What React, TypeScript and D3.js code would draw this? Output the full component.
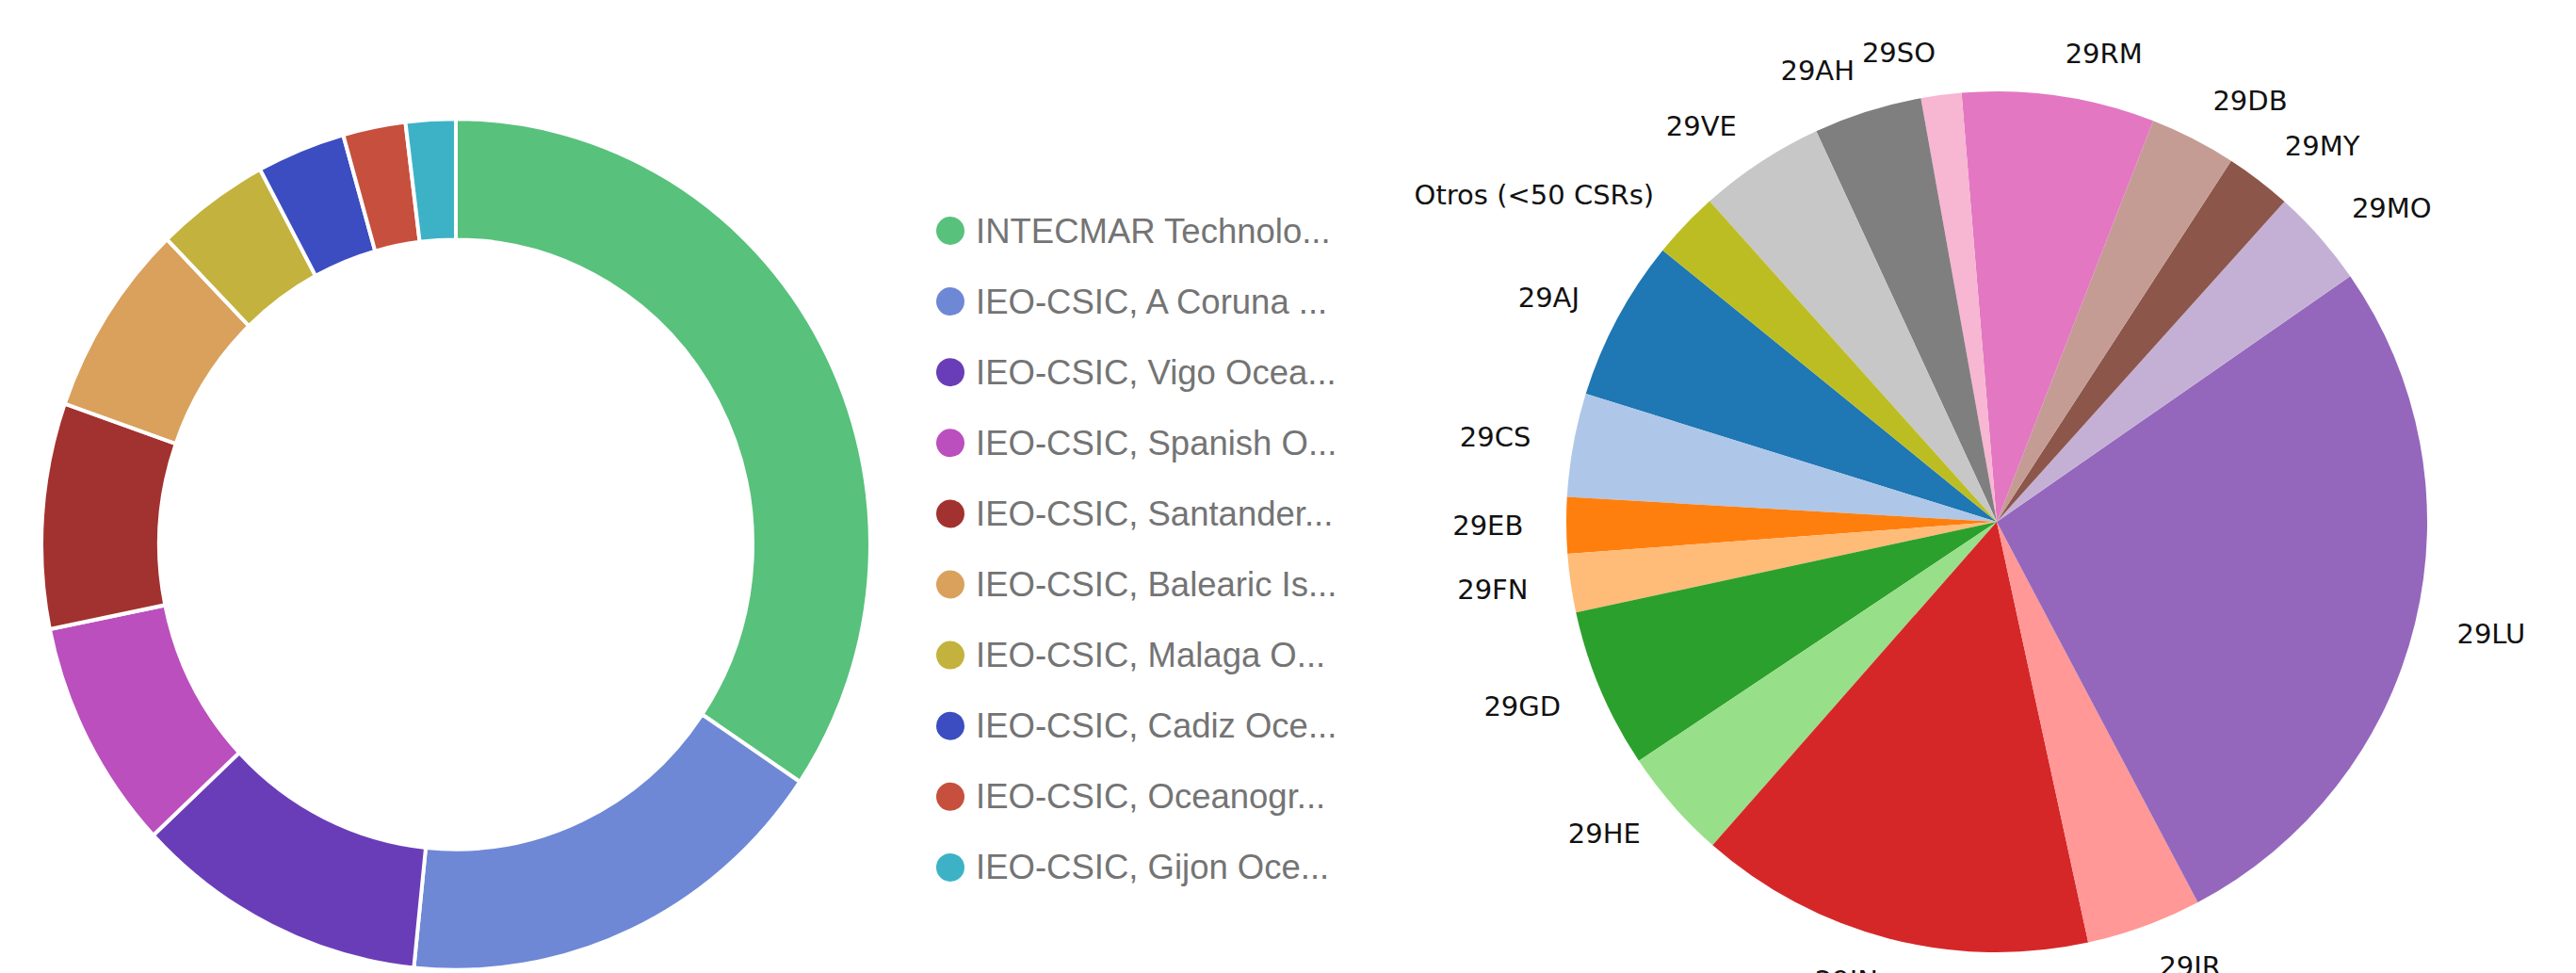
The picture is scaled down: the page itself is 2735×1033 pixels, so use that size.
import React from "react";
import * as d3 from "d3";

const donutLabels = [
  "INTECMAR Technolo...",
  "IEO-CSIC, A Coruna ...",
  "IEO-CSIC, Vigo Ocea...",
  "IEO-CSIC, Spanish O...",
  "IEO-CSIC, Santander...",
  "IEO-CSIC, Balearic Is...",
  "IEO-CSIC, Malaga O...",
  "IEO-CSIC, Cadiz Oce...",
  "IEO-CSIC, Oceanogr...",
  "IEO-CSIC, Gijon Oce...",
];
const donutValues = [1735, 867, 575, 443, 431, 371, 224, 174, 123, 98];
const donutColors = [
  "#58c17c", "#6e88d6", "#6a3db8", "#bb4fbe", "#a2322f",
  "#d9a15c", "#c3b23d", "#3b4dc0", "#c6503d", "#3db2c6",
];

const pieLabels = [
  "29AJ", "29CS", "29EB", "29FN", "29GD", "29HE", "29IN", "29IR", "29LU",
  "29MO", "29MY", "29DB", "29RM", "29SO", "29AH", "29VE", "Otros (<50 CSRs)",
];
const pieValues = [207, 133, 72, 75, 205, 142, 509, 148, 921, 126, 85, 111, 247, 52, 139, 162, 86];
const pieColors = [
  "#1f77b4", "#aec7e8", "#ff7f0e", "#ffbb78", "#2ca02c", "#98df8a", "#d62728",
  "#ff9896", "#9467bd", "#c5b0d5", "#8c564b", "#c49c94", "#e377c2", "#f7b6d2",
  "#7f7f7f", "#c7c7c7", "#bcbd22",
];

export default function App() {
  // Donut (left)
  const dcx = 484, dcy = 578, dOuter = 440, dInner = 315, dScaleY = 1.027;
  const donutArcs = d3.pie<number>().sort(null)(donutValues);
  const donutArc = d3.arc<d3.PieArcDatum<number>>().innerRadius(dInner).outerRadius(dOuter);

  // Legend
  const lx = 1009, ly0 = 245, lstep = 75.1;

  // Pie (right), matplotlib-like counterclockwise from startangle
  const pcx = 2120, pcy = 554, pr = 457;
  const start = ((90 - 140.9) * Math.PI) / 180;
  const pieArcs = d3.pie<number>().sort(null).startAngle(start).endAngle(start - 2 * Math.PI)(pieValues);
  const pieArc = d3.arc<d3.PieArcDatum<number>>().innerRadius(0).outerRadius(pr);
  const lr = pr * 1.1;

  return (
    <svg width={2735} height={1033} style={{ position: "absolute", left: 0, top: 0, background: "#fff" }}>
      <g transform={`translate(${dcx},${dcy}) scale(1,${dScaleY})`}>
        {donutArcs.map((a, i) => (
          <path key={i} d={donutArc(a) || ""} fill={donutColors[i]} stroke="#fff" strokeWidth={4} strokeLinejoin="round" />
        ))}
      </g>
      <g>
        {donutLabels.map((t, i) => (
          <g key={i} transform={`translate(${lx},${ly0 + i * lstep})`}>
            <circle r={15} fill={donutColors[i]} />
            <text x={27} y={0} dominantBaseline="central" fontFamily="'Liberation Sans', Arial, sans-serif" fontSize={36.5} fill="#747474">
              {t}
            </text>
          </g>
        ))}
      </g>
      <g transform={`translate(${pcx},${pcy})`}>
        {pieArcs.map((a, i) => (
          <path key={i} d={pieArc(a) || ""} fill={pieColors[i]} />
        ))}
        {pieArcs.map((a, i) => {
          const m = (a.startAngle + a.endAngle) / 2;
          const x = Math.sin(m) * lr;
          const y = -Math.cos(m) * lr;
          return (
            <text key={i} x={x} y={y} textAnchor={x > 0 ? "start" : "end"} dominantBaseline="central"
              fontFamily="'DejaVu Sans', sans-serif" fontSize={29} fill="#111">
              {pieLabels[i]}
            </text>
          );
        })}
      </g>
    </svg>
  );
}
